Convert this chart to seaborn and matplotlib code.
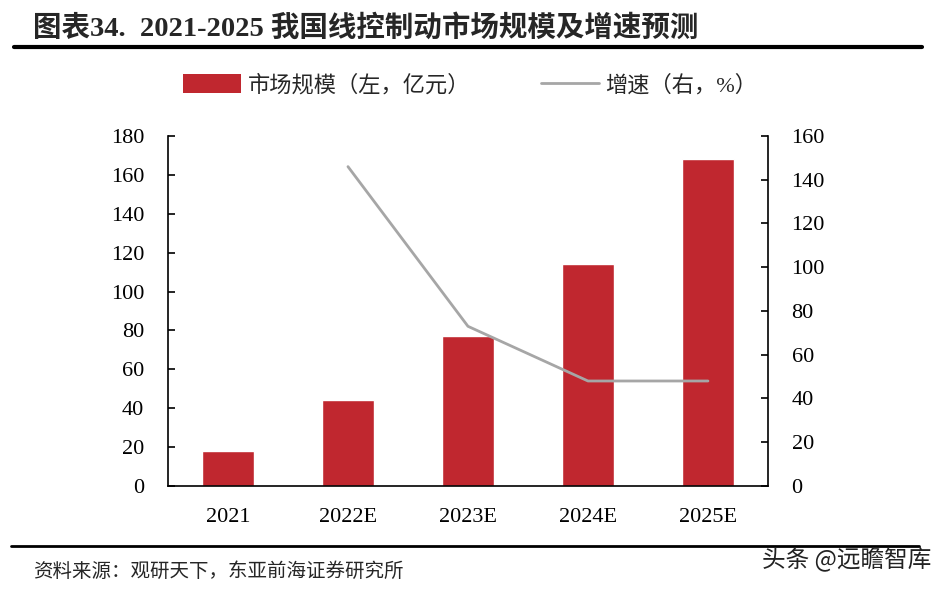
import matplotlib
matplotlib.use('Agg')
import matplotlib.pyplot as plt
import seaborn as sns
import pandas as pd
from matplotlib.patches import Patch
from matplotlib.lines import Line2D

years = ['2021', '2022E', '2023E', '2024E', '2025E']
market_size = [18, 44, 77, 114, 168]          # 亿元, left axis
growth = [None, 146, 73, 48, 48]              # %, right axis

sns.set_style('white')
plt.rcParams['font.family'] = ['Liberation Serif', 'Noto Sans CJK SC', 'DejaVu Sans']

df = pd.DataFrame({'year': years, 'size': market_size, 'growth': growth})

fig = plt.figure(figsize=(9.5, 5.89), dpi=100)
ax = fig.add_axes([0.1768, 0.1749, 0.6316, 0.5942])

bar_color = '#C0272F'
line_color = '#A6A6A6'

sns.barplot(data=df, x='year', y='size', color=bar_color, width=0.43,
            saturation=1, ax=ax)
ax.set_xlim(-0.5, 4.5)
ax.set_ylim(0, 180)
ax.set_yticks(range(0, 181, 20))
ax.set_xlabel('')
ax.set_ylabel('')

ax2 = ax.twinx()
gdf = df.dropna()
ax2.plot(gdf.index, gdf['growth'], color=line_color, lw=2)
ax2.set_ylim(0, 160)
ax2.set_yticks(range(0, 161, 20))
ax2.set_xlim(-0.5, 4.5)

for a in (ax, ax2):
    for s in a.spines.values():
        s.set_visible(False)
    a.tick_params(labelsize=16, colors='black')
ax.spines['left'].set_visible(True)
ax.spines['bottom'].set_visible(True)
ax2.spines['right'].set_visible(True)
for sp in (ax.spines['left'], ax.spines['bottom'], ax2.spines['right']):
    sp.set_color('black')
    sp.set_linewidth(1.2)
ax.tick_params(axis='y', direction='in', length=5, width=1.2, left=True, pad=17)
ax.tick_params(axis='x', length=0, pad=16)
ax2.tick_params(axis='y', direction='in', length=5, width=1.2, right=True, pad=17)

handles = [Patch(facecolor=bar_color, edgecolor='none'),
           Line2D([0], [0], color=line_color, lw=2)]
labels = ['市场规模（左，亿元）', '增速（右，%）']
fig.legend(handles, labels, loc='center', bbox_to_anchor=(0.495, 0.855), ncol=2,
           frameon=False, fontsize=16, handlelength=2.6, handleheight=0.9,
           columnspacing=3.2, handletextpad=0.3)

fig.text(0.035, 0.953, '图表34.  2021-2025 我国线控制动市场规模及增速预测',
         fontsize=20.5, fontweight='bold', va='center', ha='left')
fig.add_artist(Line2D([0.015, 0.97], [0.921, 0.921], color='black', lw=3))
fig.add_artist(Line2D([0.012, 0.967], [0.073, 0.073], color='black', lw=2))
fig.text(0.035, 0.03, '资料来源：观研天下，东亚前海证券研究所', fontsize=14,
         va='center', ha='left')
fig.text(0.98, 0.052, '头条 @远瞻智库', fontsize=17, va='center', ha='right',
         color='#222222', family=['Noto Sans CJK SC', 'DejaVu Sans'])

fig.savefig('out.png', dpi=100)
